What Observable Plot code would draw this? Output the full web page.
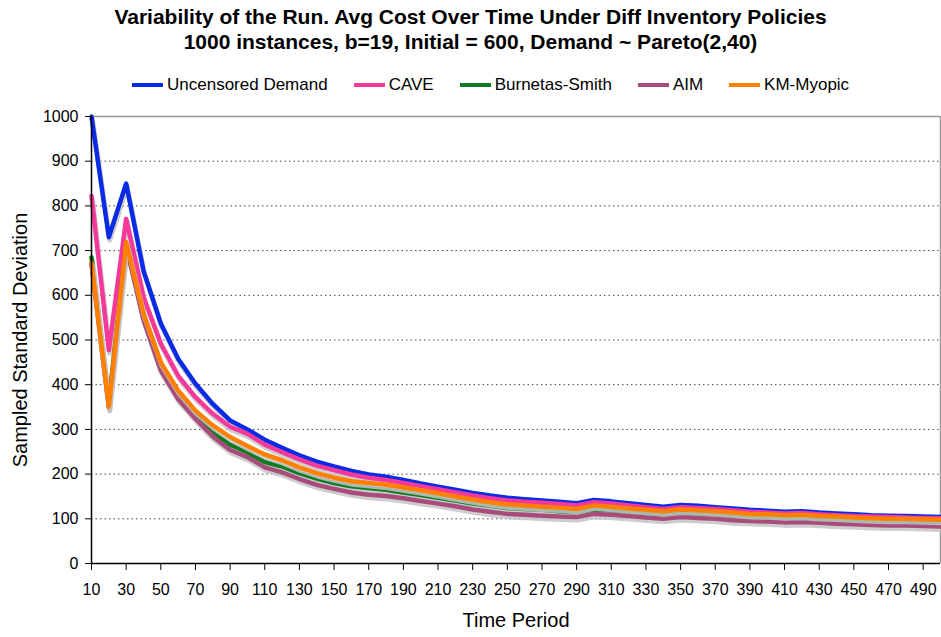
<!DOCTYPE html>
<html>
<head>
<meta charset="utf-8">
<script src="https://cdn.jsdelivr.net/npm/d3@7"></script>
<script src="https://cdn.jsdelivr.net/npm/@observablehq/plot@0.6"></script>
<style>
  body { margin: 0; background: #fff; font-family: "Liberation Sans", Arial, sans-serif; color: #000; }
  #wrap { width: 941px; height: 637px; overflow: hidden; }
  #title { height: 68px; text-align: center; font-weight: bold; font-size: 21px; line-height: 25px; padding-top: 4px; box-sizing: border-box; white-space: nowrap; }
  #legend { height: 34px; display: flex; align-items: center; padding-left: 132px; font-size: 17px; }
  .item { display: flex; align-items: center; margin-right: 26px; }
  .sw { width: 31px; height: 4px; margin-right: 4px; }
  #chart svg { overflow: visible; }
</style>
</head>
<body>
<div id="wrap">
  <div id="title">Variability of the Run. Avg Cost Over Time Under Diff Inventory Policies<br>1000 instances, b=19, Initial = 600, Demand ~ Pareto(2,40)</div>
  <div id="legend"></div>
  <div id="chart"></div>
</div>
<script>
const periods = [10,20,30,40,50,60,70,80,90,100,110,120,130,140,150,160,170,180,190,200,210,220,230,240,250,260,270,280,290,300,310,320,330,340,350,360,370,380,390,400,410,420,430,440,450,460,470,480,490,500];
const uncensored = [1000,730,850,655,537,458,402,357,320,300,277,259,242,228,217,207,199,194,187,179,172,165,158,152,147,144,141,138,135,142,139,135,131,127,131,129,126,123,120,118,116,117,114,112,110,108,107,106,105,104];
const cave = [822,477,771,596,492,420,372,335,306,290,266,249,233,219,209,199,192,187,180,173,166,159,152,146,141,138,136,133,130,137,134,130,126,122,126,124,122,119,116,114,112,113,110,108,106,105,104,103,102,101];
const burnetas = [685,360,715,550,439,376,331,294,266,249,227,217,202,190,180,173,169,165,159,153,147,141,134,129,124,122,120,117,115,121,119,116,113,110,113,112,110,107,105,104,102,103,100,99,97,95,95,94,93,92];
const aim = [670,348,710,545,432,368,324,284,254,238,215,204,189,176,167,159,154,151,146,140,134,128,121,116,111,109,107,105,104,111,109,106,103,100,104,102,100,97,95,94,92,93,91,89,88,86,85,85,84,83];
const kmMyopic = [672,351,719,559,450,387,342,309,283,263,244,231,215,202,192,184,180,176,170,164,157,150,143,137,132,130,127,125,122,130,127,123,120,117,121,119,117,114,111,110,108,109,106,105,103,101,100,100,99,98];

const seriesNames = ["Uncensored Demand","CAVE","Burnetas-Smith","AIM","KM-Myopic"];
const seriesValues = [uncensored, cave, burnetas, aim, kmMyopic];
const seriesColors = ["#0a2be6","#f5389a","#0f7a22","#a84c7c","#ff8000"];
const xTicks = [10,30,50,70,90,110,130,150,170,190,210,230,250,270,290,310,330,350,370,390,410,430,450,470,490];
const yTicks = [0,100,200,300,400,500,600,700,800,900,1000];

// legend
const legend = document.getElementById("legend");
seriesNames.forEach((n, i) => {
  const it = document.createElement("div"); it.className = "item";
  const sw = document.createElement("div"); sw.className = "sw"; sw.style.background = seriesColors[i];
  const tx = document.createElement("span"); tx.textContent = n;
  it.appendChild(sw); it.appendChild(tx); legend.appendChild(it);
});

const data = seriesNames.map((name, i) => periods.map((p, j) => ({name, period: p, value: seriesValues[i][j]})));

const seriesMarks = data.flatMap((d, i) => [
  Plot.line(d, {x: "period", y: "value", stroke: "#c4c4c4", strokeWidth: 5, dx: 1, dy: 3, strokeOpacity: 0.85}),
  Plot.line(d, {x: "period", y: "value", stroke: seriesColors[i], strokeWidth: 4.5})
]);

const chart = Plot.plot({
  width: 941,
  height: 535,
  marginLeft: 91,
  marginRight: 1,
  marginTop: 14,
  marginBottom: 74,
  style: {fontFamily: '"Liberation Sans", Arial, sans-serif', fontSize: "16px", color: "#000", background: "#fff", overflow: "visible"},
  x: {domain: [10, 500]},
  y: {domain: [0, 1000]},
  marks: [
    Plot.ruleY(yTicks.filter(d => d > 0 && d < 1000), {stroke: "#444", strokeDasharray: "1.5,3", strokeWidth: 1}),
    Plot.ruleY([1000], {stroke: "#999", strokeWidth: 1.5}),
    Plot.ruleX([500], {stroke: "#999", strokeWidth: 1.5}),
    ...seriesMarks,
    Plot.ruleX([10], {stroke: "#000", strokeWidth: 1.5}),
    Plot.ruleY([0], {stroke: "#000", strokeWidth: 1.5}),
    Plot.axisY({ticks: yTicks, tickSize: 6, tickPadding: 7, label: null, fontSize: 16, stroke: "#000", tickFormat: d => String(d)}),
    Plot.axisX({ticks: xTicks, tickSize: 7, tickPadding: 13, label: null, fontSize: 16, tickFormat: d => String(d), stroke: "#000"}),
    Plot.text(["Sampled Standard Deviation"], {frameAnchor: "left", dx: -71, rotate: -90, fontSize: 20, textAnchor: "middle", lineAnchor: "middle"}),
    Plot.text(["Time Period"], {frameAnchor: "bottom", dy: 57, fontSize: 20, textAnchor: "middle", lineAnchor: "middle"})
  ]
});
document.getElementById("chart").appendChild(chart);
</script>
</body>
</html>
